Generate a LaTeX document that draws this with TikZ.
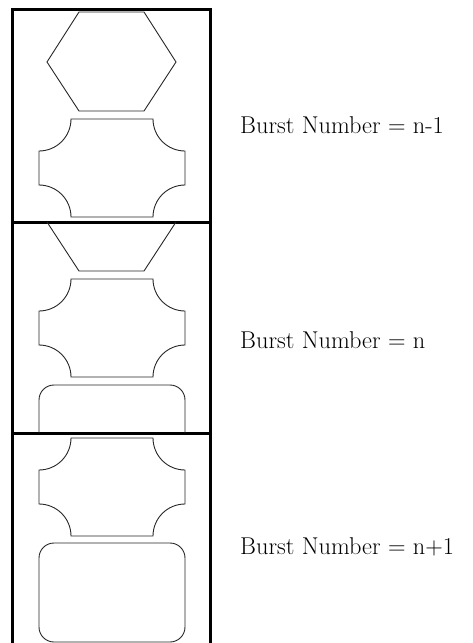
\documentclass[tikz,border=0pt]{standalone}
\begin{document}
\begin{tikzpicture}[x=1pt,y=1pt,yscale=-1,
  frame/.style={line width=3pt},
  shp/.style={line width=0.9pt, black!85},
  lbl/.style={anchor=base west, inner sep=0pt, font=\fontsize{24.3}{29}\selectfont}]
\useasboundingbox (0,0) rectangle (472,643);
% frame
\draw[frame] (12,643) -- (12,9) -- (210,9) -- (210,643);
\draw[frame] (12,222) -- (210,222);
\draw[frame] (12,433) -- (210,433);
% section 1 hexagon
\draw[shp] (79,12) -- (144,12) -- (176,62) -- (144,111) -- (79,111) -- (47,62) -- cycle;
% section 2 half hexagon
\draw[shp] (47,222) -- (79,271) -- (144,271) -- (176,222);
% crosses
\foreach \T in {119,279,438}{
  \pgfmathsetmacro{\B}{\T+98}
  \draw[shp] (71,\T) -- (153,\T) arc[start angle=180, end angle=90, radius=32pt]
    -- (185,\B-32) arc[start angle=270, end angle=180, radius=32pt]
    -- (71,\B) arc[start angle=0, end angle=-90, radius=32pt]
    -- (39,\T+32) arc[start angle=90, end angle=0, radius=32pt] -- cycle;
}
% rounded rectangles
\draw[shp, rounded corners=15pt] (39,433) -- (39,385) -- (185,385) -- (185,433);
\draw[shp, rounded corners=15pt] (39,543) rectangle (185,642);
% labels
\node[lbl] (b1) at (240,133) {Burst Number = n-1};
\node[lbl] (b2) at (240,348) {Burst Number = n};
\node[lbl] (b3) at (240,554) {Burst Number = n+1};
\end{tikzpicture}
\end{document}
